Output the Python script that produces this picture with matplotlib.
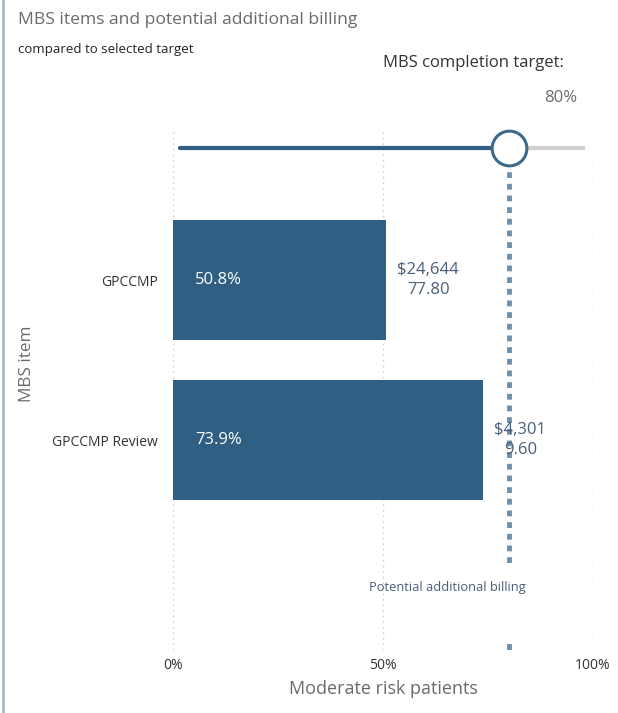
import matplotlib.pyplot as plt
from matplotlib.lines import Line2D
import numpy as np

plt.rcParams['font.family'] = ['Open Sans', 'DejaVu Sans']

# data
items = ['GPCCMP', 'GPCCMP Review']
completion = [50.8, 73.9]
billing = ['$24,644', '$4,301']
patients = ['77.80', '9.60']
target = 80
xticks = [0, 50, 100]
xtick_labels = ['0%', '50%', '100%']

bar_col = '#2f5f82'
txt_gray = '#6b6b6b'

fig = plt.figure(figsize=(6.18, 7.13), dpi=100)
ax = fig.add_axes([173 / 618, 1 - 650 / 713, 420 / 618, 522 / 713])

ypos = np.arange(len(items))
ax.barh(ypos, completion, height=0.75, color=bar_col, zorder=3)
ax.set_xlim(0, 100)
ax.set_ylim(2.3125, -0.95)

# dotted grid
for xt in xticks:
    ax.axvline(xt, color='#c8c8c8', ls=(0, (1, 3)), lw=1, zorder=1)

# labels in and beside the bars
for i, v in enumerate(completion):
    ax.annotate(f'{v:.1f}%', (0, i), xytext=(16, 0), textcoords='offset points',
                color='white', fontsize=12, va='center', ha='left', zorder=5)
    ax.annotate(f'{billing[i]}\n{patients[i]}', (v, i), xytext=(8, 0),
                textcoords='offset points', color='#4a5f78', fontsize=12,
                va='center', ha='left', multialignment='center',
                linespacing=1.25, zorder=5)

# target line and slider
ax.plot([target, target], [-0.75, 1.78], color='#6f90ab', lw=3.5,
        ls=(0, (1.2, 1.2)), zorder=4)
ax.plot([target, target], [2.29, 2.31], color='#6f90ab', lw=3.5, zorder=4)
ax.text(84, 1.925, 'Potential additional billing', ha='right',
        va='center', fontsize=9.3, color='#4a5f78')
ax.plot([1.7, target], [-0.825, -0.825], color=bar_col, lw=3, zorder=4,
        solid_capstyle='round')
ax.plot([target, 97.5], [-0.825, -0.825], color='#d0d0d0', lw=3, zorder=4)
ax.plot([target], [-0.825], 'o', ms=25, mfc='white', mec='#3c6a8c',
        mew=2.2, zorder=6)

ax.set_yticks(ypos)
ax.set_yticklabels(items, fontsize=10, color='#333333')
ax.set_xticks(xticks)
ax.set_xticklabels(xtick_labels, fontsize=10, color='#333333')
ax.tick_params(length=0, axis='y', pad=11)
ax.tick_params(length=0, axis='x', pad=6)
for s in ax.spines.values():
    s.set_visible(False)
ax.set_xlabel('Moderate risk patients', fontsize=13, color=txt_gray,
              labelpad=5)
fig.text(27 / 618, 1 - 364 / 713, 'MBS item', rotation=90, ha='center',
         va='center', fontsize=12.3, color=txt_gray)

# header texts
fig.text(18 / 618, 1 - 20 / 713, 'MBS items and potential additional billing',
         fontsize=12.6, color=txt_gray, va='center')
fig.text(18 / 618, 1 - 50 / 713, 'compared to selected target',
         fontsize=9.5, color='#222222', va='center')
fig.text(564 / 618, 1 - 63 / 713, 'MBS completion target:',
         fontsize=12, color='#333333', va='center', ha='right')
fig.text(577 / 618, 1 - 98 / 713, f'{target}%',
         fontsize=12, color=txt_gray, va='center', ha='right')

fig.add_artist(Line2D([3 / 618, 3 / 618], [0, 1], color='#a9b9c9', lw=2))

fig.savefig('out.png', dpi=100)
